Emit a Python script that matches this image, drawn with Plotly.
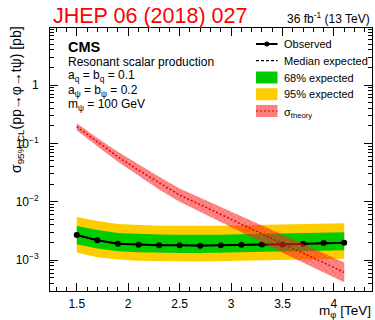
import plotly.graph_objects as go

# Resonant scalar mass points [TeV]
mass = [1.5, 1.7, 1.9, 2.1, 2.3, 2.5, 2.7, 2.9, 3.1, 3.3, 3.5, 3.7, 3.9, 4.1]

# 95% CL upper limits [pb]
observed = [2.68e-3, 2.18e-3, 1.90e-3, 1.83e-3, 1.79e-3, 1.79e-3, 1.76e-3,
            1.79e-3, 1.83e-3, 1.85e-3, 1.85e-3, 1.90e-3, 1.96e-3, 1.98e-3]
expected = [2.68e-3, 2.18e-3, 1.92e-3, 1.84e-3, 1.80e-3, 1.79e-3, 1.78e-3,
            1.79e-3, 1.82e-3, 1.85e-3, 1.87e-3, 1.90e-3, 1.95e-3, 1.98e-3]
exp68_up = [3.83e-3, 3.26e-3, 2.91e-3, 2.79e-3, 2.73e-3, 2.71e-3, 2.69e-3,
            2.71e-3, 2.76e-3, 2.80e-3, 2.83e-3, 2.88e-3, 2.95e-3, 3.00e-3]
exp68_dn = [1.876e-3, 1.578e-3, 1.423e-3, 1.363e-3, 1.334e-3, 1.326e-3, 1.319e-3,
            1.326e-3, 1.349e-3, 1.371e-3, 1.386e-3, 1.408e-3, 1.445e-3, 1.467e-3]
exp95_up = [5.47e-3, 4.66e-3, 4.15e-3, 3.98e-3, 3.89e-3, 3.87e-3, 3.85e-3,
            3.87e-3, 3.94e-3, 4.00e-3, 4.04e-3, 4.11e-3, 4.22e-3, 4.28e-3]
exp95_dn = [1.343e-3, 1.118e-3, 1.020e-3, 0.977e-3, 0.956e-3, 0.950e-3, 0.945e-3,
            0.950e-3, 0.966e-3, 0.982e-3, 0.993e-3, 1.009e-3, 1.035e-3, 1.051e-3]

# Theory cross section and its uncertainty band [pb]
theory = [0.193, 0.105, 0.0589, 0.0347, 0.0209, 0.0130, 0.00891,
          0.00603, 0.00417, 0.00282, 0.00191, 0.00132, 0.00089, 0.000617]
theory_up = [0.2216, 0.1234, 0.0716, 0.0432, 0.0269, 0.0169, 0.01174,
             0.00813, 0.00575, 0.00394, 0.00273, 0.00191, 0.00130, 0.000913]
theory_dn = [0.168, 0.0894, 0.0484, 0.0279, 0.0162, 0.00998, 0.00676,
             0.00447, 0.00302, 0.00202, 0.00134, 0.000913, 0.000609, 0.000417]

x_ticks = [1.5, 2, 2.5, 3, 3.5, 4]
x_ticktext = ["1.5", "2", "2.5", "3", "3.5", "4"]
y_ticks = [1e-3, 1e-2, 1e-1, 1]
y_ticktext = ["10<sup>−3</sup>", "10<sup>−2</sup>", "10<sup>−1</sup>", "1"]

legend_labels = ["Observed", "Median expected", "68% expected", "95% expected",
                 "σ<sub>theory</sub>"]

GREEN = "rgb(0,204,0)"
YELLOW = "rgb(255,204,0)"
RED_FILL = "rgba(255,40,40,0.55)"
FONT = "Liberation Sans, Arial, sans-serif"

W, H = 375, 320
ML, MR, MT, MB = 50, 3, 28, 29
PW, PH = W - ML - MR, H - MT - MB


def px(x):
    return (x - ML) / PW


def py(y):
    return (H - MB - y) / PH


def band(lo, hi):
    return mass + mass[::-1], hi + lo[::-1]


fig = go.Figure()

bx, by = band(exp95_dn, exp95_up)
fig.add_trace(go.Scatter(x=bx, y=by, fill="toself", fillcolor=YELLOW,
                         line=dict(width=0), mode="lines", hoverinfo="skip"))
bx, by = band(exp68_dn, exp68_up)
fig.add_trace(go.Scatter(x=bx, y=by, fill="toself", fillcolor=GREEN,
                         line=dict(width=0), mode="lines", hoverinfo="skip"))
fig.add_trace(go.Scatter(x=mass, y=expected, mode="lines",
                         line=dict(color="black", width=1.5, dash="3px,2px")))
fig.add_trace(go.Scatter(x=mass, y=observed, mode="lines+markers",
                         line=dict(color="black", width=2),
                         marker=dict(color="black", size=6)))
bx, by = band(theory_dn, theory_up)
fig.add_trace(go.Scatter(x=bx, y=by, fill="toself", fillcolor=RED_FILL,
                         fillpattern=dict(shape="x", fgcolor="rgba(230,0,0,0.5)",
                                          bgcolor=RED_FILL, size=4, solidity=0.3),
                         line=dict(width=0), mode="lines", hoverinfo="skip"))
fig.add_trace(go.Scatter(x=mass, y=theory, mode="lines",
                         line=dict(color="rgb(230,0,0)", width=1.5, dash="2px,2px")))

axis_common = dict(showline=True, linecolor="black", linewidth=1, mirror="allticks",
                   ticks="inside", tickcolor="black", tickwidth=1, showgrid=False,
                   zeroline=False, tickfont=dict(family=FONT, size=12, color="black"))

fig.update_xaxes(range=[1.24, 4.37], tickvals=x_ticks, ticktext=x_ticktext, ticklen=8,
                 minor=dict(ticks="inside", ticklen=4, dtick=0.1, tickcolor="black",
                            showgrid=False),
                 ticklabelstandoff=2, **axis_common)

minor_y = [k * 10.0 ** e for e in range(-4, 1) for k in range(2, 10)]
fig.update_yaxes(type="log", range=[-3.53, 0.977], tickvals=y_ticks, ticktext=y_ticktext,
                 ticklen=8,
                 minor=dict(ticks="inside", ticklen=4, tickvals=minor_y, tickcolor="black",
                            showgrid=False),
                 ticklabelstandoff=8, **axis_common)

ann = []
shapes = []


def text(x, y, s, size=12, xanchor="left", yanchor="middle", color="black", **kw):
    ann.append(dict(x=px(x), y=py(y), xref="paper", yref="paper", text=s, showarrow=False,
                    xanchor=xanchor, yanchor=yanchor,
                    font=dict(family=FONT, size=size, color=color), **kw))


# Header
text(51, 16, "JHEP 06 (2018) 027", size=21.5, color="red")
text(372, 18, "36 fb<sup>-1</sup> (13 TeV)", size=12, xanchor="right")

# Analysis info
text(66, 47, "<b>CMS</b>", size=14.5)
text(66, 61.5, "Resonant scalar production")
text(66, 76, "a<sub>q</sub> = b<sub>q</sub> = 0.1")
text(66, 90.5, "a<sub>ψ</sub> = b<sub>ψ</sub> = 0.2")
text(66, 105, "m<sub>ψ</sub> = 100 GeV")

# Axis titles
text(373, 311.5, "m<sub>φ</sub> [TeV]", size=13.5, xanchor="right")
ann.append(dict(x=px(17), y=py(100), xref="paper", yref="paper",
                text="σ<sub>95% CL</sub>(pp→φ→tψ) [pb]", showarrow=False, textangle=-90,
                xanchor="center", yanchor="middle",
                font=dict(family=FONT, size=14, color="black")))

# Legend
lx0, lx1, ltx = 256, 277.5, 281.5
rows = [44, 60.7, 77.5, 94.2, 111]
shapes.append(dict(type="line", xref="paper", yref="paper", x0=px(lx0), x1=px(lx1),
                   y0=py(rows[0]), y1=py(rows[0]), line=dict(color="black", width=2)))
shapes.append(dict(type="circle", xref="paper", yref="paper", x0=px(264.3), x1=px(269.3),
                   y0=py(41.5), y1=py(46.5), fillcolor="black", line=dict(width=0)))
shapes.append(dict(type="line", xref="paper", yref="paper", x0=px(lx0), x1=px(lx1),
                   y0=py(rows[1]), y1=py(rows[1]),
                   line=dict(color="black", width=1.2, dash="3px,2px")))
for r, col in [(rows[2], GREEN), (rows[3], YELLOW), (rows[4], "rgba(255,40,40,0.6)")]:
    shapes.append(dict(type="rect", xref="paper", yref="paper", x0=px(lx0), x1=px(lx1),
                       y0=py(r - 6), y1=py(r + 6), fillcolor=col, line=dict(width=0)))
shapes.append(dict(type="line", xref="paper", yref="paper", x0=px(lx0), x1=px(lx1),
                   y0=py(rows[4]), y1=py(rows[4]),
                   line=dict(color="rgb(220,0,0)", width=1.2, dash="2px,2px")))
for r, lab in zip(rows, legend_labels):
    text(ltx, r + (2 if "sub" in lab else 0), lab, size=11)

fig.update_layout(width=W, height=H, margin=dict(l=ML, r=MR, t=MT, b=MB),
                  paper_bgcolor="white", plot_bgcolor="white", showlegend=False,
                  annotations=ann, shapes=shapes)

fig.write_html("out.html")
